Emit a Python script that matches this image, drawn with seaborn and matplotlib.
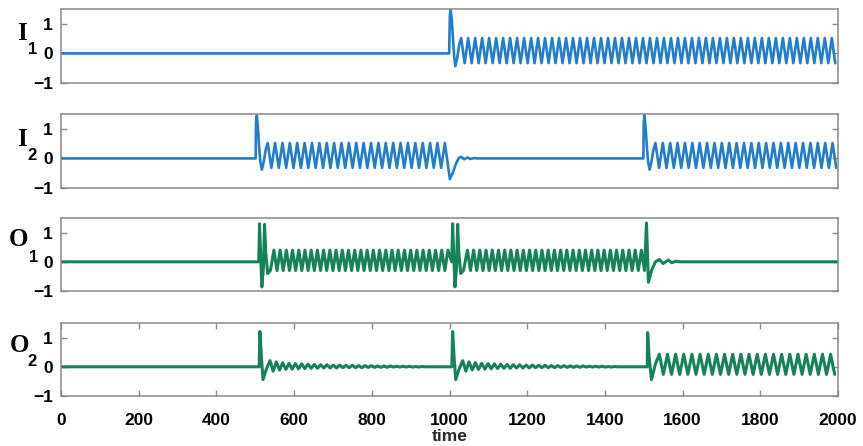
import numpy as np
import pandas as pd
import matplotlib
matplotlib.use("Agg")
import matplotlib.pyplot as plt
import seaborn as sns

# ---------------- data ----------------
x_ticks = [0, 200, 400, 600, 800, 1000, 1200, 1400, 1600, 1800, 2000]
y_ticks = [-1, 0, 1]
x_label = "time"
panel_names = ["I", "I", "O", "O"]
panel_subs = ["1", "2", "1", "2"]
t_end = 2000

# I1: flat, spike at ~1000, then steady oscillation
I1_knots_t = [0, 999, 1001, 1003, 1006, 1009, 1012, 1015, 1020, 1025]
I1_knots_v = [0, 0, 1.30, 1.47, 1.10, 0.50, -0.10, -0.43, -0.15, 0.30]
I1_osc = [(1030, 2000, 18.0, 0.52, -0.33)]  # (first peak, end, period, peak, trough)

# I2: spike at 500, oscillation, drop at 1000, flat, spike at 1500, oscillation
I2_spike_dt = [0, 1, 3, 6, 9, 12, 16, 21, 26]
I2_spike_v = [0, 1.20, 1.45, 1.00, 0.40, -0.10, -0.38, -0.10, 0.30]
I2_spike_at = [501, 1499]
I2_osc = [(532, 995, 19.0, 0.52, -0.32), (1530, 2000, 19.0, 0.52, -0.32)]
I2_drop_t = [1001, 1008, 1016, 1024, 1030, 1038, 1046, 1054, 1062, 1070]
I2_drop_v = [-0.70, -0.50, -0.20, 0.02, 0.05, -0.03, 0.03, -0.02, 0.01, 0.0]

# O1: double spike at ~508 and ~1006, steady oscillation, single spike at ~1505 then decay
O1_spike_dt = [0, 2, 5, 8, 12, 15, 18, 23, 30]
O1_spike_v = [0, 1.30, 0.20, -0.86, -0.20, 1.28, 0.30, -0.40, -0.30]
O1_spike_at = [509, 1006]
O1_osc = [(548, 1000, 16.0, 0.40, -0.30), (1046, 1502, 16.0, 0.40, -0.30)]
O1_tail_t = [1507, 1512, 1520, 1530, 1540, 1550, 1563, 1572, 1583, 1593, 2000]
O1_tail_v = [1.33, -0.70, -0.30, 0.0, 0.08, -0.06, 0.06, -0.03, 0.02, 0.0, 0.0]

# O2: spikes with damped ringing at ~512 and ~1008, spike at ~1510 with steady oscillation
O2_spike_dt = [0, 2, 6, 10, 18, 28]
O2_spike_v = [0, 1.21, 0.30, -0.44, -0.10, 0.21]
O2_spike_at = [510, 1006]
O2_ring_period = 16.3
O2_ring_peaks = [0.21, 0.17, 0.14, 0.12, 0.11, 0.10, 0.09, 0.08, 0.07, 0.07,
                 0.06, 0.06, 0.05, 0.05, 0.04, 0.04, 0.04, 0.03, 0.03, 0.03,
                 0.02, 0.02, 0.02, 0.01, 0.01]
O2_ring_troughs = [-0.15, -0.11, -0.09, -0.08, -0.07, -0.06, -0.05, -0.05, -0.04, -0.04,
                   -0.04, -0.03, -0.03, -0.03, -0.03, -0.02, -0.02, -0.02, -0.02, -0.01,
                   -0.01, -0.01, -0.01, -0.01, 0.0]
O2_last_t = [1509, 1510, 1514, 1520, 1530]
O2_last_v = [0, 1.17, 0.30, -0.44, 0.10]
O2_osc = [(1540, 2000, 21.0, 0.43, -0.26)]

blue = "#217ecd"
green = "#15825a"


# ---------------- build vertex lists ----------------
def zigzag(t_first, t_stop, period, hi, lo):
    ts, vs = [], []
    k = 0
    while t_first + k * period / 2 <= t_stop:
        ts.append(t_first + k * period / 2)
        vs.append(hi if k % 2 == 0 else lo)
        k += 1
    return ts, vs


def ring(t_first, period, peaks, troughs):
    ts, vs = [], []
    for i, (p, q) in enumerate(zip(peaks, troughs)):
        ts += [t_first + i * period, t_first + (i + 0.5) * period]
        vs += [p, q]
    return ts, vs


def series_I1():
    t, v = list(I1_knots_t), list(I1_knots_v)
    for seg in I1_osc:
        a, b = zigzag(*seg)
        t += a; v += b
    return t, v


def series_I2():
    t, v = [0], [0]
    t0 = I2_spike_at[0]
    t += [t0 + d for d in I2_spike_dt]; v += I2_spike_v
    a, b = zigzag(*I2_osc[0]); t += a; v += b
    t += I2_drop_t; v += I2_drop_v
    t1 = I2_spike_at[1]
    t += [t1 + d for d in I2_spike_dt]; v += I2_spike_v
    a, b = zigzag(*I2_osc[1]); t += a; v += b
    return t, v


def series_O1():
    t, v = [0], [0]
    for t0, seg in zip(O1_spike_at, O1_osc):
        t += [t0 + d for d in O1_spike_dt]; v += O1_spike_v
        a, b = zigzag(*seg); t += a; v += b
    t += O1_tail_t; v += O1_tail_v
    return t, v


def series_O2():
    t, v = [0], [0]
    for t0 in O2_spike_at:
        t += [t0 + d for d in O2_spike_dt]; v += O2_spike_v
        start = t0 + O2_spike_dt[-1]
        a, b = ring(start + O2_ring_period, O2_ring_period, O2_ring_peaks[1:], O2_ring_troughs[1:])
        t += [start + O2_ring_period / 2] + a; v += [O2_ring_troughs[0]] + b
        t += [a[-1] + O2_ring_period / 2]; v += [0]
    t += O2_last_t; v += O2_last_v
    a, b = zigzag(*O2_osc[0]); t += a; v += b
    return t, v


signals = [series_I1(), series_I2(), series_O1(), series_O2()]
colors = [blue, blue, green, green]
widths = [1.9, 1.9, 2.2, 2.2]

# ---------------- plot ----------------
sns.set_theme(style="white")
plt.rcParams["font.family"] = ["Liberation Sans", "DejaVu Sans"]
plt.rcParams["font.weight"] = "bold"

W, H = 863, 446
fig = plt.figure(figsize=(W / 100, H / 100), dpi=100)
fig.patch.set_facecolor("white")

tops = [9, 114, 218, 323]
bottoms = [83, 188, 291, 396]
left_px, right_px = 61, 838
name_pos = [(22, 33), (22, 140), (18, 240), (19, 345)]
sub_pos = [(33, 49), (32, 155), (34, 257), (32, 362)]
spine_col = "#8a8a8a"

for i, ((t, v), col, lw) in enumerate(zip(signals, colors, widths)):
    ax = fig.add_axes([left_px / W, 1 - bottoms[i] / H,
                       (right_px - left_px) / W, (bottoms[i] - tops[i]) / H])
    df = pd.DataFrame({"t": t, "v": v})
    sns.lineplot(data=df, x="t", y="v", ax=ax, color=col, linewidth=lw,
                 estimator=None, sort=False)
    ax.set_xlim(0, t_end)
    ax.set_ylim(-1, 1.5)
    ax.set_yticks(y_ticks)
    ax.set_yticklabels(["\u22121", "0", "1"])
    ax.set_xlabel("")
    ax.set_ylabel("")
    ax.set_facecolor("white")
    for s in ax.spines.values():
        s.set_color(spine_col)
        s.set_linewidth(1.1)
        s.set_visible(True)
    ax.tick_params(axis="y", which="both", left=True, right=True, direction="in",
                   length=4, width=1.0, color=spine_col, labelsize=12.5, pad=6,
                   labelcolor="black")
    if i < 3:
        ax.set_xticks([])
    else:
        ax.set_xticks(x_ticks)
        ax.set_xticklabels([str(x) for x in x_ticks])
        ax.tick_params(axis="x", which="both", bottom=True, top=True, direction="in",
                       length=4, width=1.0, color=spine_col, labelsize=12.5, pad=12,
                       labelcolor="black")
        ax.set_xlabel(x_label, fontsize=12.5, fontweight="bold", labelpad=1)
    for lab in ax.get_xticklabels() + ax.get_yticklabels():
        lab.set_fontweight("bold")

    nx, ny = name_pos[i]
    fig.text(nx / W, 1 - ny / H, panel_names[i], ha="center", va="center",
             family=["Liberation Serif", "DejaVu Serif"], weight="bold", size=18, color="black")
    sx, sy = sub_pos[i]
    fig.text(sx / W, 1 - sy / H, panel_subs[i], ha="center", va="center",
             family=["Liberation Sans", "DejaVu Sans"], weight="bold", size=12, color="black")

fig.savefig("out.png", dpi=100, facecolor="white")
